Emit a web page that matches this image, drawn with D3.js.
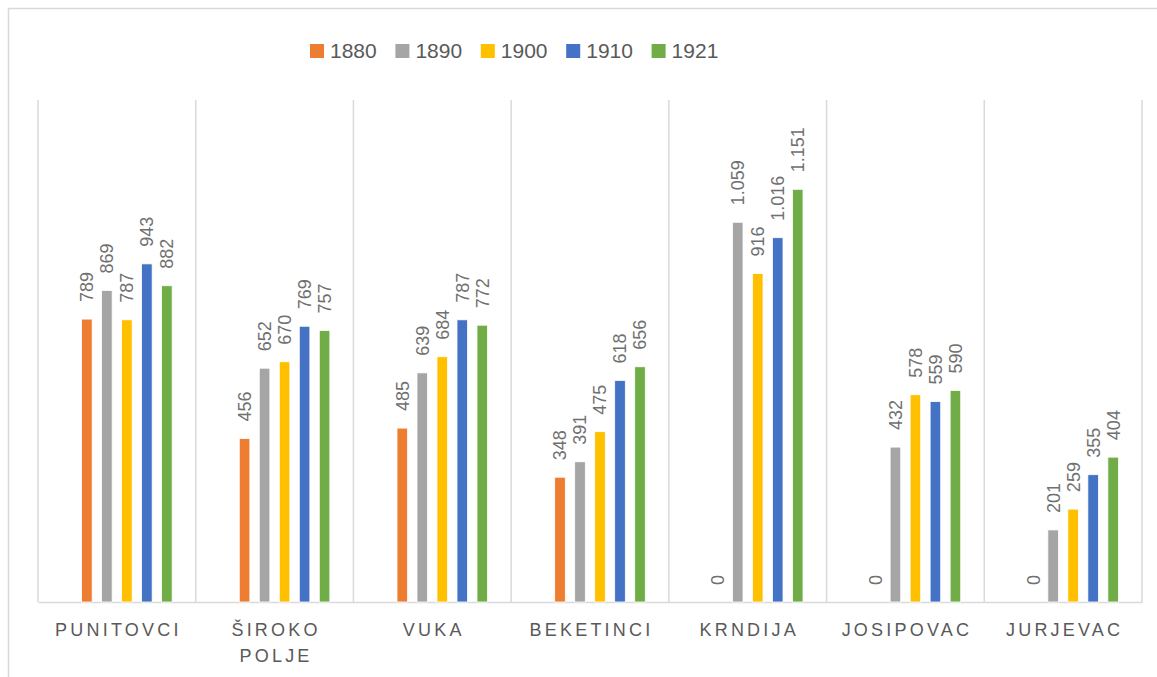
<!DOCTYPE html>
<html>
<head>
<meta charset="utf-8">
<script src="https://cdn.jsdelivr.net/npm/d3@7"></script>
<style>
  body { margin: 0; background: #fff; }
  text { font-family: "Liberation Sans", Arial, sans-serif; fill: #595959; }
</style>
</head>
<body>
<div id="chart"></div>
<script>
'use strict';

// chart values
const places = ['PUNITOVCI', 'ŠIROKO POLJE', 'VUKA', 'BEKETINCI', 'KRNDIJA', 'JOSIPOVAC', 'JURJEVAC'];
const years = ['1880', '1890', '1900', '1910', '1921'];
const colors = ['#ED7D31', '#A5A5A5', '#FFC000', '#4472C4', '#70AD47'];
const v1880 = [789, 456, 485, 348, 0, 0, 0];
const v1890 = [869, 652, 639, 391, 1059, 432, 201];
const v1900 = [787, 670, 684, 475, 916, 578, 259];
const v1910 = [943, 769, 787, 618, 1016, 559, 355];
const v1921 = [882, 757, 772, 656, 1151, 590, 404];
const series = [v1880, v1890, v1900, v1910, v1921];

const svgWidth = 1157, svgHeight = 677;
const plot = {left: 38, right: 1142, top: 100, bottom: 602};

const svg = d3.select('#chart')
              .append('svg')
                .attr('width', svgWidth)
                .attr('height', svgHeight);

// outer chart border (runs off the right/bottom edge like the source)
svg.append('rect')
   .attr('x', 8.5).attr('y', 8.5)
   .attr('width', svgWidth + 20).attr('height', svgHeight + 20)
   .attr('fill', 'none')
   .attr('stroke', '#d9d9d9')
   .attr('stroke-width', 1.5);

const x0 = d3.scaleBand().domain(places).range([plot.left, plot.right]);
// one empty slot in front of the five years, like the source chart
const slots = ['_'].concat(years);
const outer = (x0.bandwidth() - 120) / 2;
const x1 = d3.scaleBand().domain(slots)
             .range([outer, x0.bandwidth() - outer])
             .paddingInner(0.47).paddingOuter(0.235);
const y = d3.scaleLinear().domain([0, 1400]).range([plot.bottom, plot.top]);

// category separators
const seps = [plot.left].concat(places.map(p => x0(p) + x0.bandwidth()));
svg.append('g')
   .selectAll('line')
   .data(seps)
   .enter()
   .append('line')
     .attr('x1', d => d).attr('x2', d => d)
     .attr('y1', plot.top).attr('y2', plot.bottom)
     .attr('stroke', '#d9d9d9')
     .attr('stroke-width', 1.5);

// bottom axis line
const xAxis = svg.append('g')
                 .attr('transform', `translate(0, ${plot.bottom})`)
                 .call(d3.axisBottom(x0).tickSize(0).tickFormat(''));
xAxis.select('.domain').attr('stroke', '#d9d9d9').attr('stroke-width', 1.5);

const data = [];
places.forEach((p, i) => {
  years.forEach((yr, j) => {
    data.push({place: p, year: yr, color: colors[j], value: series[j][i]});
  });
});

const fmt = v => d3.format(',')(v).replace(/,/g, '.');

const bars = svg.append('g');
bars.selectAll('rect')
    .data(data)
    .enter()
    .append('rect')
      .attr('x', d => x0(d.place) + x1(d.year))
      .attr('y', d => y(d.value))
      .attr('width', x1.bandwidth())
      .attr('height', d => y(0) - y(d.value))
      .attr('fill', d => d.color)
      .attr('stroke', '#fff')
      .attr('stroke-width', d => d.value > 0 ? 0.8 : 0);

bars.selectAll('text')
    .data(data)
    .enter()
    .append('text')
      .attr('transform', d => {
        const cx = x0(d.place) + x1(d.year) + x1.bandwidth() / 2;
        return `translate(${cx}, ${y(d.value) - 17}) rotate(-90)`;
      })
      .attr('dy', '0.36em')
      .attr('font-size', 18)
      .style('fill', '#707070')
      .text(d => fmt(d.value));

// category labels
const cat = svg.append('g');
places.forEach(p => {
  const words = p === 'ŠIROKO POLJE' ? ['ŠIROKO', 'POLJE'] : [p];
  const cx = x0(p) + x0.bandwidth() / 2 + 1.5;
  const t = cat.append('text')
               .attr('x', cx)
               .attr('y', 636)
               .attr('text-anchor', 'middle')
               .attr('font-size', 18)
               .attr('letter-spacing', 3.2);
  words.forEach((w, k) => {
    t.append('tspan')
     .attr('x', cx)
     .attr('dy', k === 0 ? 0 : 26)
     .text(w);
  });
});

// legend
const legendX = d3.scaleBand().domain(years).range([310, 737]);
const legend = svg.append('g')
                  .selectAll('g')
                  .data(years)
                  .enter()
                  .append('g')
                    .attr('transform', d => `translate(${legendX(d)}, 44)`);
legend.append('rect')
      .attr('width', 14).attr('height', 14)
      .attr('fill', (d, i) => colors[i]);
legend.append('text')
      .attr('x', 20).attr('y', 14)
      .attr('font-size', 21)
      .text(d => d);
</script>
</body>
</html>
